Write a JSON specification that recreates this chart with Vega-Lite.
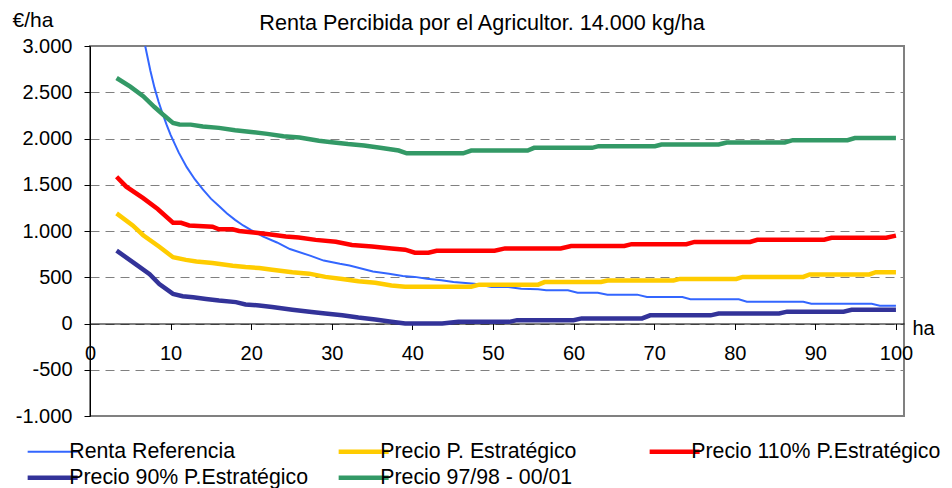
{
  "$schema": "https://vega.github.io/schema/vega-lite/v6.json",
  "width": 814,
  "height": 370,
  "autosize": "none",
  "padding": {"left": 90, "top": 46, "right": 48, "bottom": 72},
  "background": "white",
  "config": {
    "font": "Liberation Sans",
    "view": {"stroke": "#808080", "strokeWidth": 2},
    "axis": {"labelFont": "Liberation Sans", "titleFont": "Liberation Sans", "labelColor": "black", "titleColor": "black", "domainColor": "black", "tickColor": "black", "titleFontWeight": "normal"}
  },
  "title": {
    "text": "Renta Percibida por el Agricultor. 14.000 kg/ha",
    "fontSize": 21.6, "fontWeight": "normal", "color": "black", "font": "Liberation Sans",
    "frame": "group", "anchor": "middle", "baseline": "alphabetic", "offset": -42, "dx": -15
  },
  "data": {"values": [
    {"series": "Renta Referencia", "x": 6.85, "y": 3000},
    {"series": "Renta Referencia", "x": 7.5, "y": 2730},
    {"series": "Renta Referencia", "x": 8, "y": 2550},
    {"series": "Renta Referencia", "x": 8.5, "y": 2400},
    {"series": "Renta Referencia", "x": 9, "y": 2270},
    {"series": "Renta Referencia", "x": 9.5, "y": 2150},
    {"series": "Renta Referencia", "x": 10, "y": 2040},
    {"series": "Renta Referencia", "x": 11, "y": 1850},
    {"series": "Renta Referencia", "x": 12, "y": 1690},
    {"series": "Renta Referencia", "x": 13, "y": 1560},
    {"series": "Renta Referencia", "x": 14, "y": 1450},
    {"series": "Renta Referencia", "x": 15, "y": 1350},
    {"series": "Renta Referencia", "x": 16, "y": 1270},
    {"series": "Renta Referencia", "x": 17, "y": 1190},
    {"series": "Renta Referencia", "x": 18, "y": 1120},
    {"series": "Renta Referencia", "x": 19, "y": 1060},
    {"series": "Renta Referencia", "x": 20, "y": 1010},
    {"series": "Renta Referencia", "x": 21.5, "y": 940},
    {"series": "Renta Referencia", "x": 23.2, "y": 876},
    {"series": "Renta Referencia", "x": 24.8, "y": 805},
    {"series": "Renta Referencia", "x": 27.3, "y": 734},
    {"series": "Renta Referencia", "x": 29, "y": 680},
    {"series": "Renta Referencia", "x": 31, "y": 645},
    {"series": "Renta Referencia", "x": 32.2, "y": 627},
    {"series": "Renta Referencia", "x": 35.1, "y": 563},
    {"series": "Renta Referencia", "x": 37.1, "y": 538},
    {"series": "Renta Referencia", "x": 38.8, "y": 513},
    {"series": "Renta Referencia", "x": 40.3, "y": 504},
    {"series": "Renta Referencia", "x": 41.8, "y": 485},
    {"series": "Renta Referencia", "x": 43.6, "y": 467},
    {"series": "Renta Referencia", "x": 45.1, "y": 449},
    {"series": "Renta Referencia", "x": 47.7, "y": 431},
    {"series": "Renta Referencia", "x": 49.8, "y": 395},
    {"series": "Renta Referencia", "x": 51.9, "y": 395},
    {"series": "Renta Referencia", "x": 53.5, "y": 377},
    {"series": "Renta Referencia", "x": 55.6, "y": 370},
    {"series": "Renta Referencia", "x": 56.6, "y": 359},
    {"series": "Renta Referencia", "x": 59.3, "y": 359},
    {"series": "Renta Referencia", "x": 60.5, "y": 333},
    {"series": "Renta Referencia", "x": 63, "y": 333},
    {"series": "Renta Referencia", "x": 64.2, "y": 312},
    {"series": "Renta Referencia", "x": 67.9, "y": 312},
    {"series": "Renta Referencia", "x": 69.1, "y": 286},
    {"series": "Renta Referencia", "x": 73.5, "y": 286},
    {"series": "Renta Referencia", "x": 74.5, "y": 262},
    {"series": "Renta Referencia", "x": 80.5, "y": 262},
    {"series": "Renta Referencia", "x": 81.5, "y": 236},
    {"series": "Renta Referencia", "x": 88.5, "y": 236},
    {"series": "Renta Referencia", "x": 89.5, "y": 213},
    {"series": "Renta Referencia", "x": 97, "y": 213},
    {"series": "Renta Referencia", "x": 98, "y": 193},
    {"series": "Renta Referencia", "x": 100, "y": 193},

    {"series": "Precio P. Estratégico", "x": 3.3, "y": 1190},
    {"series": "Precio P. Estratégico", "x": 5.3, "y": 1061},
    {"series": "Precio P. Estratégico", "x": 6.6, "y": 954},
    {"series": "Precio P. Estratégico", "x": 8.6, "y": 830},
    {"series": "Precio P. Estratégico", "x": 10.3, "y": 717},
    {"series": "Precio P. Estratégico", "x": 11.9, "y": 688},
    {"series": "Precio P. Estratégico", "x": 13.2, "y": 670},
    {"series": "Precio P. Estratégico", "x": 15.2, "y": 653},
    {"series": "Precio P. Estratégico", "x": 17.7, "y": 624},
    {"series": "Precio P. Estratégico", "x": 19.3, "y": 610},
    {"series": "Precio P. Estratégico", "x": 21, "y": 599},
    {"series": "Precio P. Estratégico", "x": 22.6, "y": 582},
    {"series": "Precio P. Estratégico", "x": 25.1, "y": 553},
    {"series": "Precio P. Estratégico", "x": 27.2, "y": 539},
    {"series": "Precio P. Estratégico", "x": 29.2, "y": 504},
    {"series": "Precio P. Estratégico", "x": 31.3, "y": 482},
    {"series": "Precio P. Estratégico", "x": 33.3, "y": 457},
    {"series": "Precio P. Estratégico", "x": 35.4, "y": 440},
    {"series": "Precio P. Estratégico", "x": 37.4, "y": 411},
    {"series": "Precio P. Estratégico", "x": 39.1, "y": 397},
    {"series": "Precio P. Estratégico", "x": 47.3, "y": 397},
    {"series": "Precio P. Estratégico", "x": 48.3, "y": 420},
    {"series": "Precio P. Estratégico", "x": 55.6, "y": 420},
    {"series": "Precio P. Estratégico", "x": 56.4, "y": 448},
    {"series": "Precio P. Estratégico", "x": 63.4, "y": 448},
    {"series": "Precio P. Estratégico", "x": 64.2, "y": 465},
    {"series": "Precio P. Estratégico", "x": 72.4, "y": 465},
    {"series": "Precio P. Estratégico", "x": 73.2, "y": 482},
    {"series": "Precio P. Estratégico", "x": 80.2, "y": 482},
    {"series": "Precio P. Estratégico", "x": 81, "y": 504},
    {"series": "Precio P. Estratégico", "x": 88.5, "y": 504},
    {"series": "Precio P. Estratégico", "x": 89.3, "y": 530},
    {"series": "Precio P. Estratégico", "x": 96.7, "y": 530},
    {"series": "Precio P. Estratégico", "x": 97.5, "y": 555},
    {"series": "Precio P. Estratégico", "x": 100, "y": 555},

    {"series": "Precio 110% P.Estratégico", "x": 3.3, "y": 1586},
    {"series": "Precio 110% P.Estratégico", "x": 4.5, "y": 1479},
    {"series": "Precio 110% P.Estratégico", "x": 6.6, "y": 1355},
    {"series": "Precio 110% P.Estratégico", "x": 8.4, "y": 1238},
    {"series": "Precio 110% P.Estratégico", "x": 10.3, "y": 1089},
    {"series": "Precio 110% P.Estratégico", "x": 11.3, "y": 1089},
    {"series": "Precio 110% P.Estratégico", "x": 12.3, "y": 1060},
    {"series": "Precio 110% P.Estratégico", "x": 15.2, "y": 1046},
    {"series": "Precio 110% P.Estratégico", "x": 16, "y": 1018},
    {"series": "Precio 110% P.Estratégico", "x": 17.7, "y": 1018},
    {"series": "Precio 110% P.Estratégico", "x": 18.5, "y": 1000},
    {"series": "Precio 110% P.Estratégico", "x": 20.6, "y": 982},
    {"series": "Precio 110% P.Estratégico", "x": 22.2, "y": 964},
    {"series": "Precio 110% P.Estratégico", "x": 24.3, "y": 940},
    {"series": "Precio 110% P.Estratégico", "x": 25.9, "y": 929},
    {"series": "Precio 110% P.Estratégico", "x": 28, "y": 904},
    {"series": "Precio 110% P.Estratégico", "x": 30.5, "y": 883},
    {"series": "Precio 110% P.Estratégico", "x": 32.5, "y": 848},
    {"series": "Precio 110% P.Estratégico", "x": 35, "y": 833},
    {"series": "Precio 110% P.Estratégico", "x": 37.4, "y": 812},
    {"series": "Precio 110% P.Estratégico", "x": 39.1, "y": 798},
    {"series": "Precio 110% P.Estratégico", "x": 40.3, "y": 765},
    {"series": "Precio 110% P.Estratégico", "x": 42, "y": 765},
    {"series": "Precio 110% P.Estratégico", "x": 43, "y": 787},
    {"series": "Precio 110% P.Estratégico", "x": 50.2, "y": 787},
    {"series": "Precio 110% P.Estratégico", "x": 51.5, "y": 812},
    {"series": "Precio 110% P.Estratégico", "x": 58.4, "y": 812},
    {"series": "Precio 110% P.Estratégico", "x": 59.7, "y": 838},
    {"series": "Precio 110% P.Estratégico", "x": 66.3, "y": 838},
    {"series": "Precio 110% P.Estratégico", "x": 67.2, "y": 858},
    {"series": "Precio 110% P.Estratégico", "x": 74, "y": 858},
    {"series": "Precio 110% P.Estratégico", "x": 75, "y": 882},
    {"series": "Precio 110% P.Estratégico", "x": 81.9, "y": 882},
    {"series": "Precio 110% P.Estratégico", "x": 82.8, "y": 905},
    {"series": "Precio 110% P.Estratégico", "x": 91.1, "y": 905},
    {"series": "Precio 110% P.Estratégico", "x": 92, "y": 927},
    {"series": "Precio 110% P.Estratégico", "x": 98.8, "y": 927},
    {"series": "Precio 110% P.Estratégico", "x": 100, "y": 950},

    {"series": "Precio 90% P.Estratégico", "x": 3.3, "y": 788},
    {"series": "Precio 90% P.Estratégico", "x": 5.7, "y": 639},
    {"series": "Precio 90% P.Estratégico", "x": 7.4, "y": 533},
    {"series": "Precio 90% P.Estratégico", "x": 8.6, "y": 426},
    {"series": "Precio 90% P.Estratégico", "x": 10.3, "y": 320},
    {"series": "Precio 90% P.Estratégico", "x": 11.5, "y": 295},
    {"series": "Precio 90% P.Estratégico", "x": 12.8, "y": 284},
    {"series": "Precio 90% P.Estratégico", "x": 14.4, "y": 266},
    {"series": "Precio 90% P.Estratégico", "x": 16, "y": 248},
    {"series": "Precio 90% P.Estratégico", "x": 18.1, "y": 231},
    {"series": "Precio 90% P.Estratégico", "x": 19.3, "y": 206},
    {"series": "Precio 90% P.Estratégico", "x": 21, "y": 195},
    {"series": "Precio 90% P.Estratégico", "x": 22.6, "y": 178},
    {"series": "Precio 90% P.Estratégico", "x": 25.1, "y": 149},
    {"series": "Precio 90% P.Estratégico", "x": 27.5, "y": 124},
    {"series": "Precio 90% P.Estratégico", "x": 29.2, "y": 107},
    {"series": "Precio 90% P.Estratégico", "x": 31.3, "y": 89},
    {"series": "Precio 90% P.Estratégico", "x": 33.3, "y": 64},
    {"series": "Precio 90% P.Estratégico", "x": 35.4, "y": 43},
    {"series": "Precio 90% P.Estratégico", "x": 37.4, "y": 18},
    {"series": "Precio 90% P.Estratégico", "x": 39.1, "y": 0},
    {"series": "Precio 90% P.Estratégico", "x": 43.7, "y": 0},
    {"series": "Precio 90% P.Estratégico", "x": 45.7, "y": 18},
    {"series": "Precio 90% P.Estratégico", "x": 52, "y": 18},
    {"series": "Precio 90% P.Estratégico", "x": 53, "y": 36},
    {"series": "Precio 90% P.Estratégico", "x": 60, "y": 36},
    {"series": "Precio 90% P.Estratégico", "x": 61, "y": 55},
    {"series": "Precio 90% P.Estratégico", "x": 68.5, "y": 55},
    {"series": "Precio 90% P.Estratégico", "x": 69.5, "y": 88},
    {"series": "Precio 90% P.Estratégico", "x": 77, "y": 88},
    {"series": "Precio 90% P.Estratégico", "x": 78, "y": 108},
    {"series": "Precio 90% P.Estratégico", "x": 85.5, "y": 108},
    {"series": "Precio 90% P.Estratégico", "x": 86.5, "y": 128},
    {"series": "Precio 90% P.Estratégico", "x": 93.5, "y": 128},
    {"series": "Precio 90% P.Estratégico", "x": 94.5, "y": 148},
    {"series": "Precio 90% P.Estratégico", "x": 100, "y": 148},

    {"series": "Precio 97/98 - 00/01", "x": 3.3, "y": 2654},
    {"series": "Precio 97/98 - 00/01", "x": 5, "y": 2560},
    {"series": "Precio 97/98 - 00/01", "x": 6.6, "y": 2457},
    {"series": "Precio 97/98 - 00/01", "x": 8, "y": 2340},
    {"series": "Precio 97/98 - 00/01", "x": 9.05, "y": 2259},
    {"series": "Precio 97/98 - 00/01", "x": 10.3, "y": 2168},
    {"series": "Precio 97/98 - 00/01", "x": 11.1, "y": 2151},
    {"series": "Precio 97/98 - 00/01", "x": 12.5, "y": 2150},
    {"series": "Precio 97/98 - 00/01", "x": 14, "y": 2130},
    {"series": "Precio 97/98 - 00/01", "x": 16, "y": 2115},
    {"series": "Precio 97/98 - 00/01", "x": 18, "y": 2090},
    {"series": "Precio 97/98 - 00/01", "x": 20, "y": 2070},
    {"series": "Precio 97/98 - 00/01", "x": 22, "y": 2050},
    {"series": "Precio 97/98 - 00/01", "x": 24, "y": 2025},
    {"series": "Precio 97/98 - 00/01", "x": 26, "y": 2010},
    {"series": "Precio 97/98 - 00/01", "x": 28.4, "y": 1975},
    {"series": "Precio 97/98 - 00/01", "x": 30, "y": 1960},
    {"series": "Precio 97/98 - 00/01", "x": 32, "y": 1940},
    {"series": "Precio 97/98 - 00/01", "x": 34, "y": 1925},
    {"series": "Precio 97/98 - 00/01", "x": 36, "y": 1900},
    {"series": "Precio 97/98 - 00/01", "x": 38.3, "y": 1870},
    {"series": "Precio 97/98 - 00/01", "x": 39.3, "y": 1840},
    {"series": "Precio 97/98 - 00/01", "x": 46.3, "y": 1840},
    {"series": "Precio 97/98 - 00/01", "x": 47.3, "y": 1870},
    {"series": "Precio 97/98 - 00/01", "x": 54.3, "y": 1870},
    {"series": "Precio 97/98 - 00/01", "x": 55.1, "y": 1899},
    {"series": "Precio 97/98 - 00/01", "x": 62.3, "y": 1899},
    {"series": "Precio 97/98 - 00/01", "x": 63.1, "y": 1917},
    {"series": "Precio 97/98 - 00/01", "x": 70.1, "y": 1917},
    {"series": "Precio 97/98 - 00/01", "x": 70.9, "y": 1935},
    {"series": "Precio 97/98 - 00/01", "x": 78, "y": 1935},
    {"series": "Precio 97/98 - 00/01", "x": 79, "y": 1957},
    {"series": "Precio 97/98 - 00/01", "x": 86.2, "y": 1957},
    {"series": "Precio 97/98 - 00/01", "x": 87.2, "y": 1982},
    {"series": "Precio 97/98 - 00/01", "x": 94, "y": 1982},
    {"series": "Precio 97/98 - 00/01", "x": 94.9, "y": 2005},
    {"series": "Precio 97/98 - 00/01", "x": 100, "y": 2005}
  ]},
  "mark": {"type": "line", "clip": true},
  "encoding": {
    "x": {
      "field": "x", "type": "quantitative",
      "scale": {"domain": [0, 101], "nice": false, "zero": false},
      "axis": {
        "values": [0, 10, 20, 30, 40, 50, 60, 70, 80, 90, 100],
        "offset": -92.5, "grid": false, "labelFlush": false,
        "labelFontSize": 20, "labelPadding": 14, "tickSize": 6,
        "domainWidth": 1, "tickWidth": 1,
        "title": "ha", "titleFontSize": 20, "titleAlign": "left", "titleBaseline": "alphabetic",
        "titleX": 822, "titleY": 11, "titleAnchor": null
      }
    },
    "y": {
      "field": "y", "type": "quantitative",
      "scale": {"domain": [-1000, 3000], "nice": false, "zero": false},
      "axis": {
        "values": [-1000, -500, 0, 500, 1000, 1500, 2000, 2500, 3000],
        "labelExpr": "replace(replace(format(datum.value, ','), ',', '.'), '\u2212', '-')",
        "labelFontSize": 20, "labelPadding": 12, "tickSize": 6,
        "grid": true, "gridColor": "#808080", "gridDash": [9, 6], "gridWidth": 1,
        "domainWidth": 1, "tickWidth": 1,
        "title": "€/ha", "titleFontSize": 21, "titleAngle": 0, "titleAlign": "left",
        "titleBaseline": "alphabetic", "titleX": -78, "titleY": -19.5
      }
    },
    "color": {
      "field": "series", "type": "nominal",
      "scale": {
        "domain": ["Renta Referencia", "Precio P. Estratégico", "Precio 110% P.Estratégico", "Precio 90% P.Estratégico", "Precio 97/98 - 00/01"],
        "range": ["#3366FF", "#FFCC00", "#FF0000", "#333399", "#339966"]
      },
      "legend": {
        "title": null, "orient": "none", "legendX": -48, "legendY": 395,
        "columns": 3, "direction": "horizontal", "gridAlign": "all",
        "columnPadding": 10, "rowPadding": 4, "padding": 0,
        "symbolType": "stroke", "symbolSize": 2500, "symbolStrokeWidth": 4.5,
        "labelFontSize": 21.3, "labelFont": "Liberation Sans", "labelColor": "black", "labelOffset": 6, "labelLimit": 400,
        "encode": {"symbols": {"update": {"strokeWidth": {"signal": "datum.label === 'Renta Referencia' ? 2 : 4.5"}}}}
      }
    },
    "strokeWidth": {"condition": {"test": "datum.series === 'Renta Referencia'", "value": 2}, "value": 4.5}
  }
}
